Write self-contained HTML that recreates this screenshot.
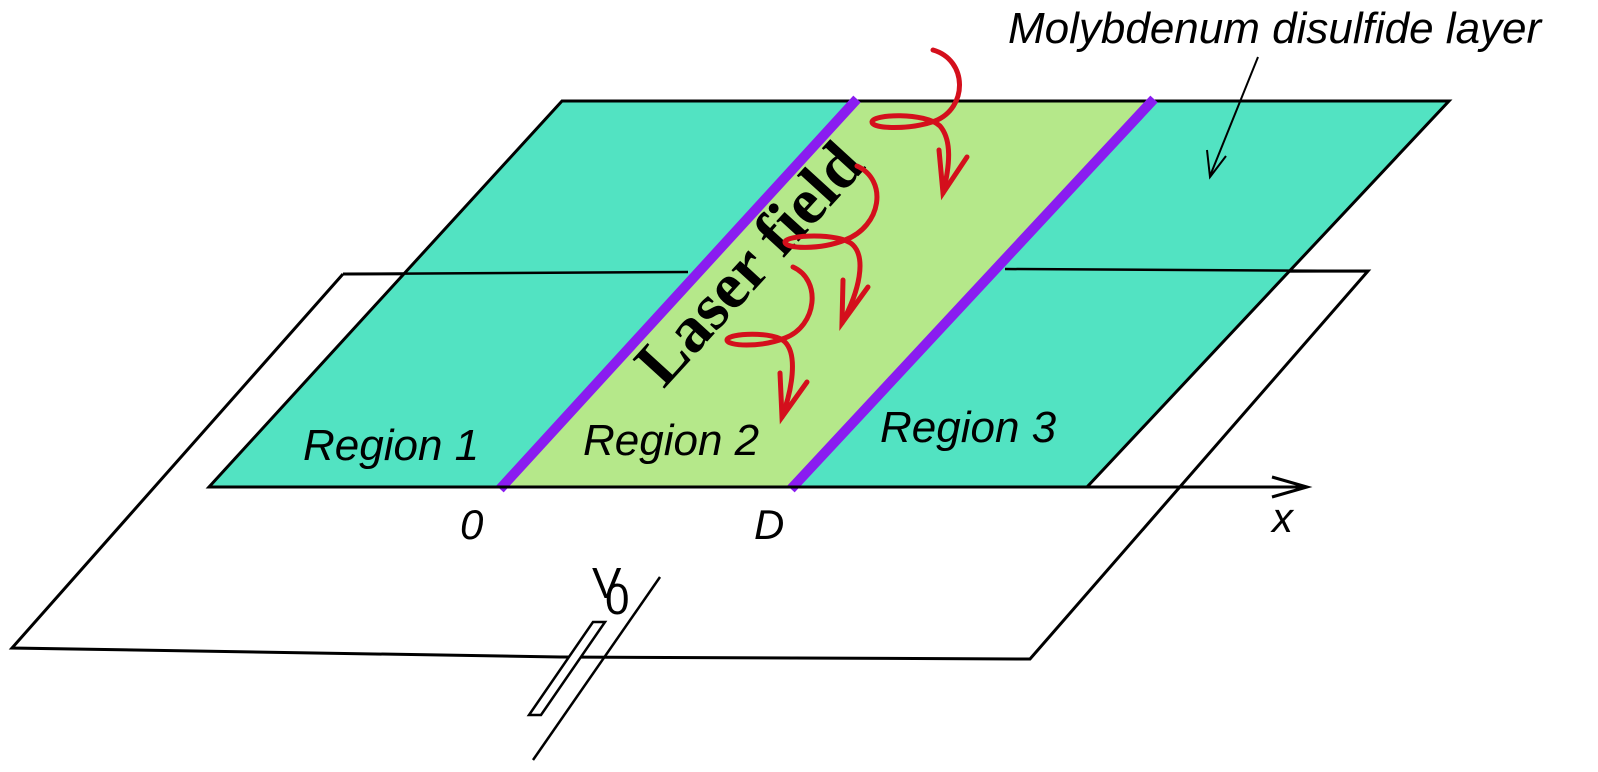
<!DOCTYPE html>
<html><head><meta charset="utf-8"><style>
html,body{margin:0;padding:0;background:#fff;}
svg{display:block;}
text{font-family:"Liberation Sans",sans-serif;}
</style></head><body>
<svg width="1598" height="772" viewBox="0 0 1598 772" xmlns="http://www.w3.org/2000/svg">
<polyline points="343,274 12,648 560,657 1030,659 1368,271 343,274" fill="none" stroke="#000" stroke-width="3"/>
<polygon points="562,101 1449,101 1087,487 209,487" fill="#52e3c2" stroke="#000" stroke-width="3"/>
<polygon points="855,101 1152,101 793,487 502,487" fill="#b5e88a"/>
<line x1="562" y1="101" x2="1449" y2="101" stroke="#000" stroke-width="3"/>
<line x1="343" y1="274" x2="688" y2="272" stroke="#000" stroke-width="2.5"/>
<line x1="1005" y1="269" x2="1368" y2="271" stroke="#000" stroke-width="2.5"/>
<line x1="857" y1="99" x2="500" y2="489" stroke="#8a1cf0" stroke-width="10"/>
<line x1="1154" y1="99" x2="791" y2="489" stroke="#8a1cf0" stroke-width="10"/>
<line x1="209" y1="487" x2="1307" y2="487" stroke="#000" stroke-width="3"/>
<polyline points="1272,477 1307,487 1272,497" fill="none" stroke="#000" stroke-width="3"/>
<text x="1272" y="532" font-size="42" font-style="italic">x</text>
<text x="460" y="539" font-size="42" font-style="italic">0</text>
<text x="754" y="539" font-size="42" font-style="italic">D</text>
<text x="303" y="460" font-size="44" font-style="italic">Region 1</text>
<text x="583" y="455" font-size="44" font-style="italic">Region 2</text>
<text x="880" y="442" font-size="44" font-style="italic">Region 3</text>
<text x="1008" y="43" font-size="44" font-style="italic">Molybdenum disulfide layer</text>
<line x1="1258" y1="57" x2="1210" y2="176" stroke="#000" stroke-width="2"/>
<polyline points="1207,150 1210,177 1226,156" fill="none" stroke="#000" stroke-width="2"/>
<text transform="translate(754,268) rotate(-47.6)" text-anchor="middle" dominant-baseline="middle" font-weight="bold" font-size="66" style="font-family:'Liberation Serif',serif">Laser field</text>
<g fill="none" stroke="#d40f1c" stroke-width="5" stroke-linecap="round">
<path d="M933,50 C968,60 968,108 935,121 C910,130 872,129 872,122 C872,114 925,112 940,126 C952,140 950,165 943,193"/>
<polyline points="939,150 943,193 967,157"/>
<path d="M857,166 C888,180 882,226 845,240 C820,250 785,249 785,242 C785,235 840,232 853,245 C866,258 860,290 842,323"/>
<polyline points="843,280 842,323 868,287"/>
<path d="M793,267 C822,280 817,326 785,338 C760,348 727,346 727,340 C727,333 775,331 785,342 C798,355 792,390 782,417"/>
<polyline points="780,373 782,417 807,382"/>
</g>
<polygon points="593,622 605,622 541,715 529,715" fill="#fff" stroke="#000" stroke-width="2.5"/>
<line x1="660" y1="577" x2="533" y2="760" stroke="#000" stroke-width="2.5"/>
<text x="592" y="598" font-size="44">V</text>
<text x="605" y="614" font-size="44">0</text>
</svg>
</body></html>
